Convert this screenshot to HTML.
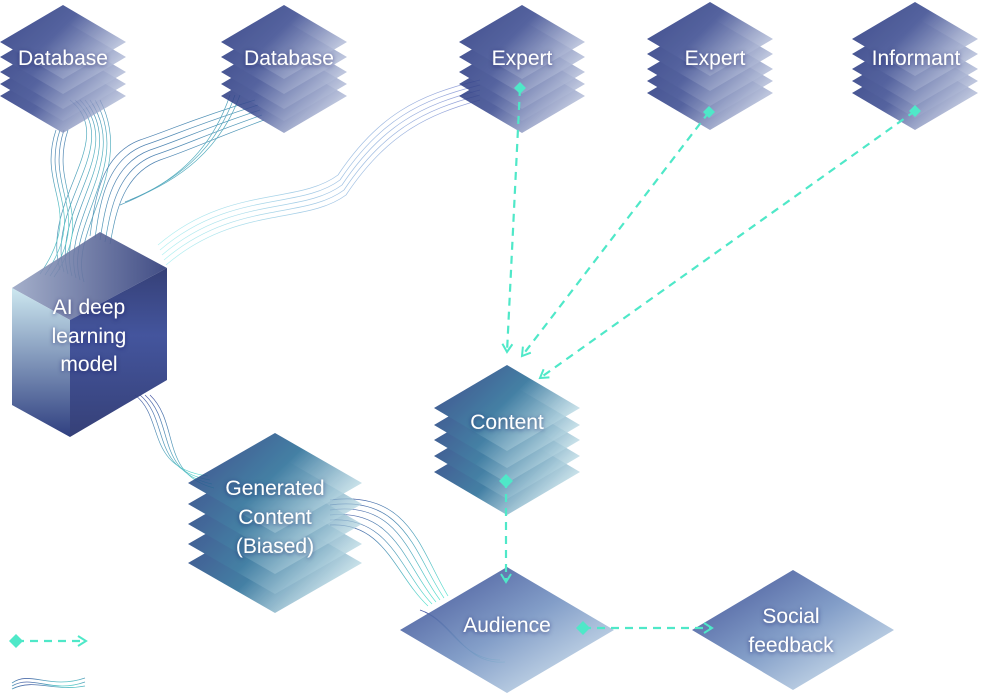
<!DOCTYPE html>
<html><head><meta charset="utf-8"><style>
html,body{margin:0;padding:0;background:#fff;width:999px;height:694px;overflow:hidden}
svg{display:block}
text{font-family:"Liberation Sans",sans-serif;fill:#fff;font-size:21px;text-anchor:middle;filter:url(#sh)}
</style></head><body>
<svg width="999" height="694" viewBox="0 0 999 694" xmlns="http://www.w3.org/2000/svg">
<defs>
<filter id="sh" x="-20%" y="-40%" width="140%" height="180%"><feDropShadow dx="0" dy="1" stdDeviation="2" flood-color="#1a2260" flood-opacity="0.6"/></filter>
<linearGradient id="g1" x1="0" y1="0" x2="1" y2="0.6"><stop offset="0" stop-color="#26357c"/><stop offset="0.5" stop-color="#3e4e92"/><stop offset="1" stop-color="#b8c2dc" stop-opacity="0.85"/></linearGradient>
<linearGradient id="g3" x1="0" y1="0" x2="1" y2="0.6"><stop offset="0" stop-color="#26357c"/><stop offset="0.55" stop-color="#2b6f98"/><stop offset="1" stop-color="#c4e2ea" stop-opacity="0.8"/></linearGradient>
<linearGradient id="ga" x1="0" y1="0" x2="1" y2="1"><stop offset="0" stop-color="#2d3e8a"/><stop offset="0.5" stop-color="#7593c2"/><stop offset="1" stop-color="#e4f3f7"/></linearGradient>
<linearGradient id="cf" x1="0" y1="0" x2="0" y2="1"><stop offset="0" stop-color="#cde8f0"/><stop offset="1" stop-color="#2f3f80"/></linearGradient>
<linearGradient id="cr" x1="0" y1="0" x2="0" y2="1"><stop offset="0" stop-color="#2b3670"/><stop offset="0.4" stop-color="#3a4c98"/><stop offset="1" stop-color="#2b3670"/></linearGradient>
<linearGradient id="ct" x1="0" y1="0" x2="1" y2="0"><stop offset="0" stop-color="#9aa6c4"/><stop offset="1" stop-color="#2d3a78"/></linearGradient>
<linearGradient id="w1" x1="0" y1="0" x2="1" y2="1"><stop offset="0" stop-color="#2c3c95"/><stop offset="1" stop-color="#40e0c8"/></linearGradient>
<linearGradient id="w2" x1="0" y1="0" x2="1" y2="0"><stop offset="0" stop-color="#7ee8e8"/><stop offset="1" stop-color="#5060c0"/></linearGradient>
<path id="dm" d="M0,0 L63,37 L0,74 L-63,37 Z"/>
<path id="dm2" d="M0,0 L73,43 L0,86 L-73,43 Z"/>
<path id="dm3" d="M0,0 L87,50 L0,100 L-87,50 Z"/>
<marker id="ar" viewBox="0 0 12 12" refX="10" refY="6" markerWidth="12" markerHeight="12" markerUnits="userSpaceOnUse" orient="auto"><path d="M2,1 L10,6 L2,11" fill="none" stroke="#4fe8c8" stroke-width="2"/></marker>
</defs>

<!-- wavy bundles -->
<g fill="none" stroke-width="0.7" opacity="0.85">
<g stroke="url(#w1)">
<path d="M70,100 C120,140 40,200 60,270"/><path d="M75,100 C125,145 45,205 64,272"/><path d="M80,100 C128,150 50,210 68,274"/><path d="M85,100 C130,155 55,215 72,276"/><path d="M90,100 C132,160 60,220 76,278"/><path d="M95,100 C134,165 64,225 80,280"/><path d="M100,100 C136,170 68,230 84,282"/>
<path d="M60,130 C40,190 90,210 45,275"/><path d="M64,130 C44,190 94,212 50,276"/><path d="M56,130 C36,190 86,208 40,274"/><path d="M68,130 C48,190 98,214 54,277"/>
<path d="M260,110 C200,130 180,140 150,150 C110,165 105,210 100,240"/><path d="M262,115 C205,135 185,145 155,155 C115,170 110,215 105,242"/><path d="M258,105 C195,125 175,135 145,145 C105,160 100,205 95,238"/><path d="M255,100 C190,120 170,130 140,140 C100,155 95,200 90,236"/><path d="M264,120 C210,140 190,150 160,160 C120,175 115,220 110,244"/>
<path d="M240,95 C220,150 180,180 130,200"/><path d="M235,95 C215,152 175,182 125,202"/><path d="M230,95 C210,155 170,185 120,205"/>
<path d="M140,395 C170,420 150,470 210,480"/><path d="M145,395 C175,422 155,472 212,484"/><path d="M150,395 C180,424 160,474 214,488"/><path d="M135,395 C165,418 145,468 208,476"/>
<path d="M330,510 C400,500 410,560 440,600"/><path d="M330,515 C395,508 405,565 436,602"/><path d="M330,520 C390,516 400,570 432,604"/><path d="M330,505 C405,495 415,555 444,598"/><path d="M330,500 C410,490 420,550 448,596"/><path d="M330,525 C385,522 395,575 428,606"/>
<path d="M420,610 C450,620 460,660 500,660"/><path d="M425,612 C455,625 465,665 505,662"/>
</g>
<g stroke="url(#w2)" opacity="0.7">
<path d="M160,250 C230,190 300,210 340,180 C380,120 420,100 480,85"/><path d="M162,255 C232,195 302,215 342,185 C382,125 422,105 480,90"/><path d="M164,260 C234,200 304,220 344,190 C384,130 424,110 480,95"/><path d="M158,245 C228,185 298,205 338,175 C378,115 418,95 480,80"/><path d="M166,265 C236,205 306,225 346,195 C386,135 426,115 480,100"/>
</g>
<g stroke="url(#w1)" stroke-width="0.8">
<path d="M12,683 C30,670 50,690 85,678"/><path d="M12,686 C32,674 52,694 85,682"/><path d="M12,689 C34,678 54,692 85,686"/>
</g>
</g>

<!-- stacks -->
<g fill="url(#g1)" opacity="0.88">
<use href="#dm" x="63" y="59"/><use href="#dm" x="63" y="47"/><use href="#dm" x="63" y="35"/><use href="#dm" x="63" y="20"/><use href="#dm" x="63" y="5"/>
<use href="#dm" x="284" y="59"/><use href="#dm" x="284" y="47"/><use href="#dm" x="284" y="35"/><use href="#dm" x="284" y="20"/><use href="#dm" x="284" y="5"/>
<use href="#dm" x="522" y="59"/><use href="#dm" x="522" y="47"/><use href="#dm" x="522" y="35"/><use href="#dm" x="522" y="20"/><use href="#dm" x="522" y="5"/>
<use href="#dm" x="710" y="56"/><use href="#dm" x="710" y="44"/><use href="#dm" x="710" y="32"/><use href="#dm" x="710" y="17"/><use href="#dm" x="710" y="2"/>
<use href="#dm" x="915" y="56"/><use href="#dm" x="915" y="44"/><use href="#dm" x="915" y="32"/><use href="#dm" x="915" y="17"/><use href="#dm" x="915" y="2"/>
</g>
<g fill="url(#g3)" opacity="0.88">
<use href="#dm2" x="507" y="429"/><use href="#dm2" x="507" y="413"/><use href="#dm2" x="507" y="397"/><use href="#dm2" x="507" y="382"/><use href="#dm2" x="507" y="365"/>
<use href="#dm3" x="275" y="513"/><use href="#dm3" x="275" y="494"/><use href="#dm3" x="275" y="474"/><use href="#dm3" x="275" y="454"/><use href="#dm3" x="275" y="433"/>
</g>
<path d="M507,567 L614,630 L507,693 L400,630 Z" fill="url(#ga)" opacity="0.9"/>
<path d="M793,570 L894,630 L793,690 L692,630 Z" fill="url(#ga)" opacity="0.9"/>

<!-- cube -->
<path d="M100,232 L167,268 L70,320 L12,288 Z" fill="url(#ct)" opacity="0.9"/>
<path d="M12,288 L70,320 L70,437 L12,405 Z" fill="url(#cf)"/>
<path d="M70,320 L167,268 L167,380 L70,437 Z" fill="url(#cr)" opacity="0.95"/>

<!-- dashed connectors -->
<g stroke="#4fe8c8" stroke-width="2.2" stroke-dasharray="8 6" fill="none" marker-end="url(#ar)">
<path d="M520,88 L507,352"/>
<path d="M709,112 L522,356"/>
<path d="M915,111 L540,378"/>
<path d="M506,480 L506,582"/>
<path d="M583,628 L712,628"/>
<path d="M16,641 L86,641"/>
</g>
<g fill="#4fe8c8">
<path d="M520,82 l6,6 l-6,6 l-6,-6z"/><path d="M709,106 l6,6 l-6,6 l-6,-6z"/><path d="M915,105 l6,6 l-6,6 l-6,-6z"/>
<path d="M506,474 l7,7 l-7,7 l-7,-7z"/><path d="M583,621 l7,7 l-7,7 l-7,-7z"/><path d="M16,634 l7,7 l-7,7 l-7,-7z"/>
</g>

<!-- labels -->
<text x="63" y="65">Database</text>
<text x="289" y="65">Database</text>
<text x="522" y="65">Expert</text>
<text x="715" y="65">Expert</text>
<text x="916" y="65">Informant</text>
<text x="89" y="314">AI deep</text>
<text x="89" y="343">learning</text>
<text x="89" y="371">model</text>
<text x="507" y="429">Content</text>
<text x="275" y="495">Generated</text>
<text x="275" y="524">Content</text>
<text x="275" y="553">(Biased)</text>
<text x="507" y="632">Audience</text>
<text x="791" y="623">Social</text>
<text x="791" y="652">feedback</text>
</svg>
</body></html>
